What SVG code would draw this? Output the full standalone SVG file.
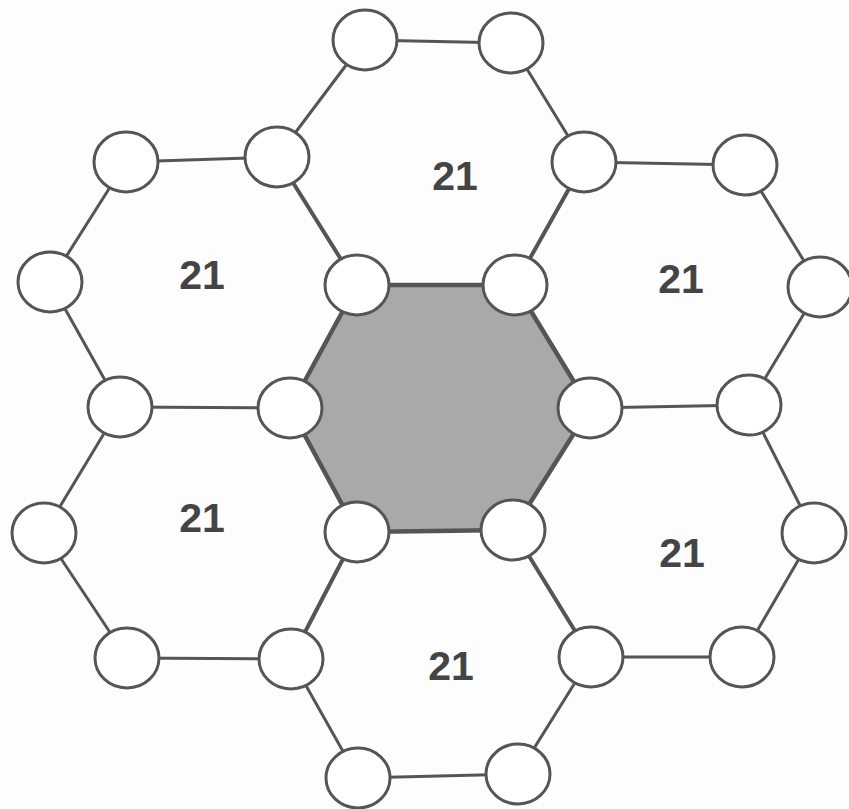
<svg xmlns="http://www.w3.org/2000/svg" width="849" height="809" viewBox="0 0 849 809">
<style>
.e{stroke:#555;stroke-width:3;fill:none;stroke-linecap:round}
.s{stroke:#555;stroke-width:4;fill:none;stroke-linecap:round}
.n ellipse{fill:#fff;stroke:#555;stroke-width:3}
.lbl{font-family:"Liberation Sans",Arial,sans-serif;font-weight:bold;font-size:41px;fill:#444;text-anchor:middle}
</style>
<rect width="849" height="809" fill="#fdfdfd"/>
<g id="center">
<polygon points="357,285 515,285 590,408 513,530 357,532 290,408" fill="#a9a9a9" stroke="#555" stroke-width="4.5" stroke-linejoin="round"/>
</g>
<g id="connectors">
<!-- spokes -->
<line class="s" x1="357" y1="285" x2="277" y2="157"/>
<line class="s" x1="515" y1="285" x2="584" y2="162"/>
<line class="e" x1="590" y1="408" x2="749" y2="405"/>
<line class="s" x1="513" y1="530" x2="591" y2="657"/>
<line class="s" x1="357" y1="532" x2="291" y2="659"/>
<line class="e" x1="290" y1="408" x2="120" y2="407"/>
<!-- top hex -->
<line class="e" x1="277" y1="157" x2="365" y2="40"/>
<line class="e" x1="365" y1="40" x2="511" y2="43"/>
<line class="e" x1="511" y1="43" x2="584" y2="162"/>
<!-- upper right hex -->
<line class="e" x1="584" y1="162" x2="745" y2="165"/>
<line class="e" x1="745" y1="165" x2="820" y2="287"/>
<line class="e" x1="820" y1="287" x2="749" y2="405"/>
<!-- lower right hex -->
<line class="e" x1="749" y1="405" x2="814" y2="533"/>
<line class="e" x1="814" y1="533" x2="742" y2="657"/>
<line class="e" x1="742" y1="657" x2="591" y2="657"/>
<!-- bottom hex -->
<line class="e" x1="591" y1="657" x2="518" y2="774"/>
<line class="e" x1="518" y1="774" x2="358" y2="778"/>
<line class="e" x1="358" y1="778" x2="291" y2="659"/>
<!-- lower left hex -->
<line class="e" x1="291" y1="659" x2="127" y2="658"/>
<line class="e" x1="127" y1="658" x2="44" y2="533"/>
<line class="e" x1="44" y1="533" x2="120" y2="407"/>
<!-- upper left hex -->
<line class="e" x1="120" y1="407" x2="50" y2="282"/>
<line class="e" x1="50" y1="282" x2="126" y2="162"/>
<line class="e" x1="126" y1="162" x2="277" y2="157"/>
</g>
<g class="n">
<g id="c1"><ellipse cx="357" cy="285" rx="32" ry="30"/></g>
<g id="c2"><ellipse cx="515" cy="285" rx="32" ry="30"/></g>
<g id="c3"><ellipse cx="590" cy="408" rx="32" ry="30"/></g>
<g id="c4"><ellipse cx="513" cy="530" rx="32" ry="30"/></g>
<g id="c5"><ellipse cx="357" cy="532" rx="32" ry="30"/></g>
<g id="c6"><ellipse cx="290" cy="408" rx="32" ry="30"/></g>
<g id="s1"><ellipse cx="277" cy="157" rx="32" ry="30"/></g>
<g id="s2"><ellipse cx="584" cy="162" rx="32" ry="30"/></g>
<g id="s3"><ellipse cx="749" cy="405" rx="32" ry="30"/></g>
<g id="s4"><ellipse cx="591" cy="657" rx="32" ry="30"/></g>
<g id="s5"><ellipse cx="291" cy="659" rx="32" ry="30"/></g>
<g id="s6"><ellipse cx="120" cy="407" rx="32" ry="30"/></g>
<g id="t1"><ellipse cx="365" cy="40" rx="32" ry="30"/></g>
<g id="t2"><ellipse cx="511" cy="43" rx="32" ry="30"/></g>
<g id="ur1"><ellipse cx="745" cy="165" rx="32" ry="30"/></g>
<g id="ur2"><ellipse cx="820" cy="287" rx="32" ry="30"/></g>
<g id="lr1"><ellipse cx="814" cy="533" rx="32" ry="30"/></g>
<g id="lr2"><ellipse cx="742" cy="657" rx="32" ry="30"/></g>
<g id="b1"><ellipse cx="518" cy="774" rx="32" ry="30"/></g>
<g id="b2"><ellipse cx="358" cy="778" rx="32" ry="30"/></g>
<g id="ll1"><ellipse cx="127" cy="658" rx="32" ry="30"/></g>
<g id="ll2"><ellipse cx="44" cy="533" rx="32" ry="30"/></g>
<g id="ul1"><ellipse cx="50" cy="282" rx="32" ry="30"/></g>
<g id="ul2"><ellipse cx="126" cy="162" rx="32" ry="30"/></g>
</g>
<g id="labels">
<text class="lbl" x="455" y="190">21</text>
<text class="lbl" x="202" y="289">21</text>
<text class="lbl" x="681" y="293">21</text>
<text class="lbl" x="202" y="532">21</text>
<text class="lbl" x="682" y="567">21</text>
<text class="lbl" x="451" y="680">21</text>
</g>
</svg>
